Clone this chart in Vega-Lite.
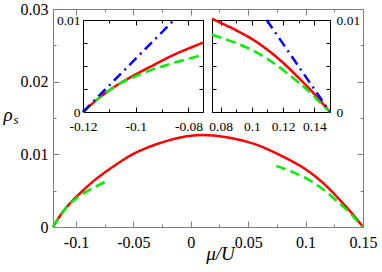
{
  "$schema": "https://vega.github.io/schema/vega-lite/v6.json",
  "width": 310,
  "height": 218,
  "autosize": "none",
  "padding": {"left": 53, "top": 9, "right": 19, "bottom": 45},
  "background": "white",
  "config": {
    "view": {"stroke": null},
    "font": "Liberation Serif",
    "axis": {
      "grid": false,
      "labelFont": "Liberation Serif",
      "labelFontSize": 16,
      "labelColor": "black",
      "labelFlush": false,
      "labelOverlap": false,
      "labelBound": false,
      "titleFont": "Liberation Serif",
      "titleFontStyle": "italic",
      "titleFontWeight": "normal",
      "titleColor": "black",
      "domainColor": "#808080",
      "tickColor": "#808080",
      "domainWidth": 1,
      "tickWidth": 1
    }
  },
  "datasets": {
    "red": [
      {"mu": -0.12, "rho": 0}, {"mu": -0.115, "rho": 0.0013}, {"mu": -0.11, "rho": 0.0024},
      {"mu": -0.105, "rho": 0.0033}, {"mu": -0.1, "rho": 0.0041}, {"mu": -0.095, "rho": 0.00485},
      {"mu": -0.09, "rho": 0.0056}, {"mu": -0.085, "rho": 0.0063}, {"mu": -0.08, "rho": 0.0069},
      {"mu": -0.0745, "rho": 0.00755}, {"mu": -0.07, "rho": 0.00805}, {"mu": -0.06, "rho": 0.00915},
      {"mu": -0.05, "rho": 0.0101}, {"mu": -0.04, "rho": 0.0108}, {"mu": -0.03, "rho": 0.0114},
      {"mu": -0.02, "rho": 0.0119}, {"mu": -0.01, "rho": 0.0123}, {"mu": 0, "rho": 0.0126},
      {"mu": 0.01, "rho": 0.0127}, {"mu": 0.02, "rho": 0.0126}, {"mu": 0.03, "rho": 0.0124},
      {"mu": 0.04, "rho": 0.0121}, {"mu": 0.05, "rho": 0.0117}, {"mu": 0.06, "rho": 0.0112},
      {"mu": 0.07, "rho": 0.0105}, {"mu": 0.0745, "rho": 0.01015}, {"mu": 0.08, "rho": 0.0097},
      {"mu": 0.09, "rho": 0.0089}, {"mu": 0.1, "rho": 0.0080}, {"mu": 0.11, "rho": 0.0068},
      {"mu": 0.12, "rho": 0.0054}, {"mu": 0.13, "rho": 0.0037}, {"mu": 0.14, "rho": 0.0020},
      {"mu": 0.15, "rho": 0}
    ],
    "green": [
      {"seg": "L", "mu": -0.12, "rho": 0}, {"seg": "L", "mu": -0.115, "rho": 0.0013},
      {"seg": "L", "mu": -0.11, "rho": 0.0024}, {"seg": "L", "mu": -0.105, "rho": 0.0033},
      {"seg": "L", "mu": -0.1, "rho": 0.0039}, {"seg": "L", "mu": -0.095, "rho": 0.0045},
      {"seg": "L", "mu": -0.09, "rho": 0.00495}, {"seg": "L", "mu": -0.085, "rho": 0.0054},
      {"seg": "L", "mu": -0.08, "rho": 0.0058}, {"seg": "L", "mu": -0.0745, "rho": 0.0062},
      {"seg": "R", "mu": 0.0745, "rho": 0.0084}, {"seg": "R", "mu": 0.08, "rho": 0.0081},
      {"seg": "R", "mu": 0.09, "rho": 0.0075}, {"seg": "R", "mu": 0.1, "rho": 0.0068},
      {"seg": "R", "mu": 0.11, "rho": 0.0058}, {"seg": "R", "mu": 0.12, "rho": 0.0046},
      {"seg": "R", "mu": 0.13, "rho": 0.0032}, {"seg": "R", "mu": 0.135, "rho": 0.0025},
      {"seg": "R", "mu": 0.14, "rho": 0.0017}, {"seg": "R", "mu": 0.145, "rho": 0.0008},
      {"seg": "R", "mu": 0.15, "rho": 0}
    ],
    "blue": [
      {"seg": "L", "mu": -0.12, "rho": 0}, {"seg": "L", "mu": -0.0855, "rho": 0.01},
      {"seg": "R", "mu": 0.1095, "rho": 0.01}, {"seg": "R", "mu": 0.15, "rho": 0}
    ]
  },
  "resolve": {"scale": {"x": "independent", "y": "independent"}},
  "layer": [
    {
      "resolve": {"axis": {"x": "independent", "y": "independent"}},
      "layer": [
        {
          "data": {"name": "red"},
          "mark": {"type": "line", "color": "#ff0000", "strokeWidth": 2.5, "interpolate": "basis"},
          "encoding": {
            "x": {"field": "mu", "type": "quantitative", "scale": {"domain": [-0.12, 0.15], "nice": false, "zero": false},
              "axis": {"orient": "bottom", "values": [-0.1, -0.05, 0, 0.05, 0.1, 0.15], "labelExpr": "replace(format(datum.value, '~g'), '\u2212', '-')", "tickSize": -6, "labelPadding": 13, "title": "μ/U", "titleX": 167, "titleY": 32, "titleAlign": "center", "titleBaseline": "alphabetic", "titleFontSize": 19, "titleAngle": 0}},
            "y": {"field": "rho", "type": "quantitative", "scale": {"domain": [0, 0.03], "nice": false, "zero": false},
              "axis": {"orient": "left", "values": [0, 0.01, 0.02, 0.03], "labelExpr": "format(datum.value, '~g')", "tickSize": -6, "labelPadding": 11, "title": "ρ", "titleAngle": 0, "titleX": -50, "titleY": 111, "titleAlign": "left", "titleBaseline": "alphabetic", "titleFontSize": 19}}
          }
        },
        {
          "data": {"name": "green"},
          "mark": {"type": "line", "color": "#00ee00", "strokeWidth": 2.5, "strokeDash": [10, 5], "interpolate": "basis"},
          "encoding": {
            "detail": {"field": "seg"},
            "x": {"field": "mu", "type": "quantitative", "scale": {"domain": [-0.12, 0.15], "nice": false, "zero": false},
              "axis": {"orient": "bottom", "values": [-0.075, -0.025, 0.025, 0.075, 0.125], "tickSize": -3, "domain": false, "labels": false, "title": null}},
            "y": {"field": "rho", "type": "quantitative", "scale": {"domain": [0, 0.03], "nice": false, "zero": false},
              "axis": {"orient": "left", "values": [0.005, 0.015, 0.025], "tickSize": -3, "domain": false, "labels": false, "title": "s", "titleAngle": 0, "titleX": -40, "titleY": 114, "titleAlign": "left", "titleBaseline": "alphabetic", "titleFontSize": 13}}
          }
        },
        {
          "data": {"name": "red"},
          "mark": {"type": "line", "opacity": 0},
          "encoding": {
            "x": {"field": "mu", "type": "quantitative", "scale": {"domain": [-0.12, 0.15], "nice": false, "zero": false},
              "axis": {"orient": "top", "values": [-0.1, -0.05, 0, 0.05, 0.1, 0.15], "tickSize": -6, "labels": false, "title": null}},
            "y": {"field": "rho", "type": "quantitative", "scale": {"domain": [0, 0.03], "nice": false, "zero": false},
              "axis": {"orient": "right", "values": [0, 0.01, 0.02, 0.03], "tickSize": -6, "labels": false, "title": null}}
          }
        },
        {
          "data": {"name": "red"},
          "mark": {"type": "line", "opacity": 0},
          "encoding": {
            "x": {"field": "mu", "type": "quantitative", "scale": {"domain": [-0.12, 0.15], "nice": false, "zero": false},
              "axis": {"orient": "top", "values": [-0.075, -0.025, 0.025, 0.075, 0.125], "tickSize": -3, "domain": false, "labels": false, "title": null}},
            "y": {"field": "rho", "type": "quantitative", "scale": {"domain": [0, 0.03], "nice": false, "zero": false},
              "axis": {"orient": "right", "values": [0.005, 0.015, 0.025], "tickSize": -3, "domain": false, "labels": false, "title": null}}
          }
        }
      ]
    },
    {
      "resolve": {"axis": {"x": "independent", "y": "independent"}},
      "layer": [
        {
          "data": {"name": "red"},
          "transform": [{"filter": {"field": "mu", "range": [-0.12, -0.0745]}}],
          "mark": {"type": "line", "color": "#ff0000", "strokeWidth": 2.5, "interpolate": "basis"},
          "encoding": {
            "x": {"field": "mu", "type": "quantitative", "scale": {"domain": [-0.12, -0.0745], "range": [30, 150], "nice": false, "zero": false},
              "axis": {"orient": "bottom", "offset": -115, "values": [-0.12, -0.1, -0.08], "labelExpr": "replace(format(datum.value, '~g'), '\u2212', '-')", "tickSize": -5, "labelPadding": 12, "labelFontSize": 13.5, "domainColor": "black", "tickColor": "black", "title": null}},
            "y": {"field": "rho", "type": "quantitative", "scale": {"domain": [0, 0.01], "range": [103, 11], "nice": false, "zero": false},
              "axis": {"orient": "left", "offset": -30, "values": [0, 0.0025, 0.005, 0.0075, 0.01], "labelExpr": "datum.value < 0.001 ? '0' : datum.value > 0.009 ? '0.01' : ''", "tickSize": -4, "labelPadding": 7, "labelFontSize": 13.5, "domainColor": "black", "tickColor": "black", "title": null}}
          }
        },
        {
          "data": {"name": "green"},
          "transform": [{"filter": {"field": "seg", "equal": "L"}}],
          "mark": {"type": "line", "color": "#00ee00", "strokeWidth": 2.5, "strokeDash": [10, 5], "interpolate": "basis"},
          "encoding": {
            "x": {"field": "mu", "type": "quantitative", "scale": {"domain": [-0.12, -0.0745], "range": [30, 150], "nice": false, "zero": false},
              "axis": {"orient": "bottom", "offset": -115, "values": [-0.11, -0.09], "tickSize": -3, "domain": false, "labels": false, "tickColor": "black", "title": null}},
            "y": {"field": "rho", "type": "quantitative", "scale": {"domain": [0, 0.01], "range": [103, 11], "nice": false, "zero": false},
              "axis": {"orient": "right", "offset": -160, "values": [0, 0.0025, 0.005, 0.0075, 0.01], "tickSize": -4, "labels": false, "domainColor": "black", "tickColor": "black", "title": null}}
          }
        },
        {
          "data": {"name": "blue"},
          "transform": [{"filter": {"field": "seg", "equal": "L"}}],
          "mark": {"type": "line", "color": "#0000ff", "strokeWidth": 2.5, "strokeDash": [10, 5, 2, 5]},
          "encoding": {
            "x": {"field": "mu", "type": "quantitative", "scale": {"domain": [-0.12, -0.0745], "range": [30, 150], "nice": false, "zero": false},
              "axis": {"orient": "top", "offset": -11, "values": [-0.12, -0.1, -0.08], "tickSize": -5, "labels": false, "domainColor": "black", "tickColor": "black", "title": null}},
            "y": {"field": "rho", "type": "quantitative", "scale": {"domain": [0, 0.01], "range": [103, 11], "nice": false, "zero": false}, "axis": null}
          }
        },
        {
          "data": {"name": "blue"},
          "transform": [{"filter": {"field": "seg", "equal": "L"}}],
          "mark": {"type": "line", "opacity": 0},
          "encoding": {
            "x": {"field": "mu", "type": "quantitative", "scale": {"domain": [-0.12, -0.0745], "range": [30, 150], "nice": false, "zero": false},
              "axis": {"orient": "top", "offset": -11, "values": [-0.11, -0.09], "tickSize": -3, "domain": false, "labels": false, "tickColor": "black", "title": null}},
            "y": {"field": "rho", "type": "quantitative", "scale": {"domain": [0, 0.01], "range": [103, 11], "nice": false, "zero": false}, "axis": null}
          }
        }
      ]
    },
    {
      "resolve": {"axis": {"x": "independent", "y": "independent"}},
      "layer": [
        {
          "data": {"name": "red"},
          "transform": [{"filter": {"field": "mu", "range": [0.0745, 0.15]}}],
          "mark": {"type": "line", "color": "#ff0000", "strokeWidth": 2.5, "interpolate": "basis"},
          "encoding": {
            "x": {"field": "mu", "type": "quantitative", "scale": {"domain": [0.0745, 0.15], "range": [159, 277], "nice": false, "zero": false},
              "axis": {"orient": "bottom", "offset": -115, "values": [0.08, 0.1, 0.12, 0.14], "labelExpr": "format(datum.value, '~g')", "tickSize": -5, "labelPadding": 12, "labelFontSize": 13.5, "domainColor": "black", "tickColor": "black", "title": null}},
            "y": {"field": "rho", "type": "quantitative", "scale": {"domain": [0, 0.01], "range": [103, 11], "nice": false, "zero": false},
              "axis": {"orient": "right", "offset": -33, "values": [0, 0.0025, 0.005, 0.0075, 0.01], "labelExpr": "datum.value < 0.001 ? '0' : datum.value > 0.009 ? '0.01' : ''", "tickSize": -4, "labelPadding": 10, "labelFontSize": 13.5, "domainColor": "black", "tickColor": "black", "title": null}}
          }
        },
        {
          "data": {"name": "green"},
          "transform": [{"filter": {"field": "seg", "equal": "R"}}],
          "mark": {"type": "line", "color": "#00ee00", "strokeWidth": 2.5, "strokeDash": [10, 5], "interpolate": "basis"},
          "encoding": {
            "x": {"field": "mu", "type": "quantitative", "scale": {"domain": [0.0745, 0.15], "range": [159, 277], "nice": false, "zero": false},
              "axis": {"orient": "bottom", "offset": -115, "values": [0.09, 0.11, 0.13], "tickSize": -3, "domain": false, "labels": false, "tickColor": "black", "title": null}},
            "y": {"field": "rho", "type": "quantitative", "scale": {"domain": [0, 0.01], "range": [103, 11], "nice": false, "zero": false},
              "axis": {"orient": "left", "offset": -159, "values": [0, 0.0025, 0.005, 0.0075, 0.01], "tickSize": -4, "labels": false, "domainColor": "black", "tickColor": "black", "title": null}}
          }
        },
        {
          "data": {"name": "blue"},
          "transform": [{"filter": {"field": "seg", "equal": "R"}}],
          "mark": {"type": "line", "color": "#0000ff", "strokeWidth": 2.5, "strokeDash": [10, 5, 2, 5]},
          "encoding": {
            "x": {"field": "mu", "type": "quantitative", "scale": {"domain": [0.0745, 0.15], "range": [159, 277], "nice": false, "zero": false},
              "axis": {"orient": "top", "offset": -11, "values": [0.08, 0.1, 0.12, 0.14], "tickSize": -5, "labels": false, "domainColor": "black", "tickColor": "black", "title": null}},
            "y": {"field": "rho", "type": "quantitative", "scale": {"domain": [0, 0.01], "range": [103, 11], "nice": false, "zero": false}, "axis": null}
          }
        },
        {
          "data": {"name": "blue"},
          "transform": [{"filter": {"field": "seg", "equal": "R"}}],
          "mark": {"type": "line", "opacity": 0},
          "encoding": {
            "x": {"field": "mu", "type": "quantitative", "scale": {"domain": [0.0745, 0.15], "range": [159, 277], "nice": false, "zero": false},
              "axis": {"orient": "top", "offset": -11, "values": [0.09, 0.11, 0.13], "tickSize": -3, "domain": false, "labels": false, "tickColor": "black", "title": null}},
            "y": {"field": "rho", "type": "quantitative", "scale": {"domain": [0, 0.01], "range": [103, 11], "nice": false, "zero": false}, "axis": null}
          }
        }
      ]
    }
  ]
}
